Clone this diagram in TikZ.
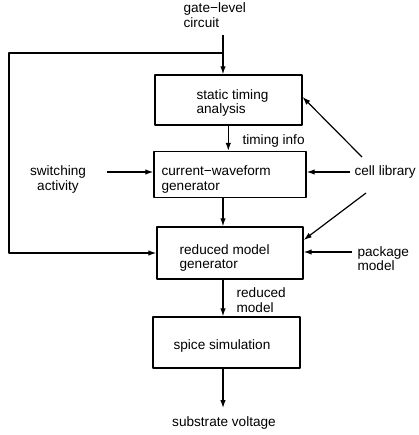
\documentclass[tikz,border=0pt]{standalone}
\usepackage{fontspec}
\setmainfont{Liberation Sans}
\usetikzlibrary{arrows.meta}
\begin{document}
\begin{tikzpicture}[x=1pt, y=-1pt, line width=1.2pt, line join=round, >={Latex[length=8pt,width=5.5pt]},
		font=\fontsize{13.6}{14.5}\selectfont,
		box/.style={draw, line width=1.4pt, inner sep=0pt},
		txt/.style={inner sep=0pt, align=left, anchor=west}
		]
		\useasboundingbox (0,0) rectangle (418,435);
		% blocks
		\node[box, minimum width=147pt, minimum height=50pt] (sta) at (228.3,100) {};
		\node[box, minimum width=152pt, minimum height=46pt] (cwg) at (230,174.5) {};
		\node[box, minimum width=146pt, minimum height=52pt] (rmg) at (230,253) {};
		\node[box, minimum width=147pt, minimum height=51pt] (spice) at (226.5,342.5) {};
		\node[txt] (staT) at (196,103) {static timing\\analysis};
		\node[txt] (cwgT) at (161,179.5) {current−waveform\\generator};
		\node[txt] (rmgT) at (179,258) {reduced model\\generator};
		\node[txt] (spiceT) at (173,345.5) {spice simulation};
		% inputs / outputs
		\node[txt] (gate) at (183,15) {gate−level\\circuit};
		\node[align=center, inner sep=0pt] (sw) at (58,179.5) {switching\\activity};
		\node[txt] (cell) at (354,172) {cell library};
		\node[txt] (pkg) at (357,258.5) {package\\model};
		\node[txt] (tinfo) at (242,141) {timing info};
		\node[txt] (rmodel) at (236,300) {reduced\\model};
		\node[inner sep=0pt] (vsub) at (224,423) {substrate voltage};
		\coordinate (gin) at (223,35);
		\coordinate (fb) at (223,53);
		\coordinate (swo) at (107,172);
		\coordinate (cl1) at (362,157);
		\coordinate (cl2) at (350,172);
		\coordinate (cl3) at (366,193);
		\coordinate (pko) at (352,252);
		\coordinate (vout) at (223,408);
		% connectors
		\draw[->] (gin) -- (gin |- sta.north);
		\draw[->] (fb) -- ++(-214,0) |- (rmg.west);
		\draw[->] (sta.south) -- (sta.south |- cwg.north);
		\draw[->] (swo) -- (swo -| cwg.west);
		\draw[->] (cl2) -- (cl2 -| cwg.east);
		\draw[->] (cl1) -- (sta.east |- 0,97);
		\draw[->] (cl3) -- (rmg.east |- 0,240);
		\draw[->] (223,0 |- cwg.south) -- (223,0 |- rmg.north);
		\draw[->] (pko) -- (pko -| rmg.east);
		\draw[->] (223,0 |- rmg.south) -- (223,0 |- spice.north);
		\draw[->] (vout |- spice.south) -- (vout);
\end{tikzpicture}
\end{document}
